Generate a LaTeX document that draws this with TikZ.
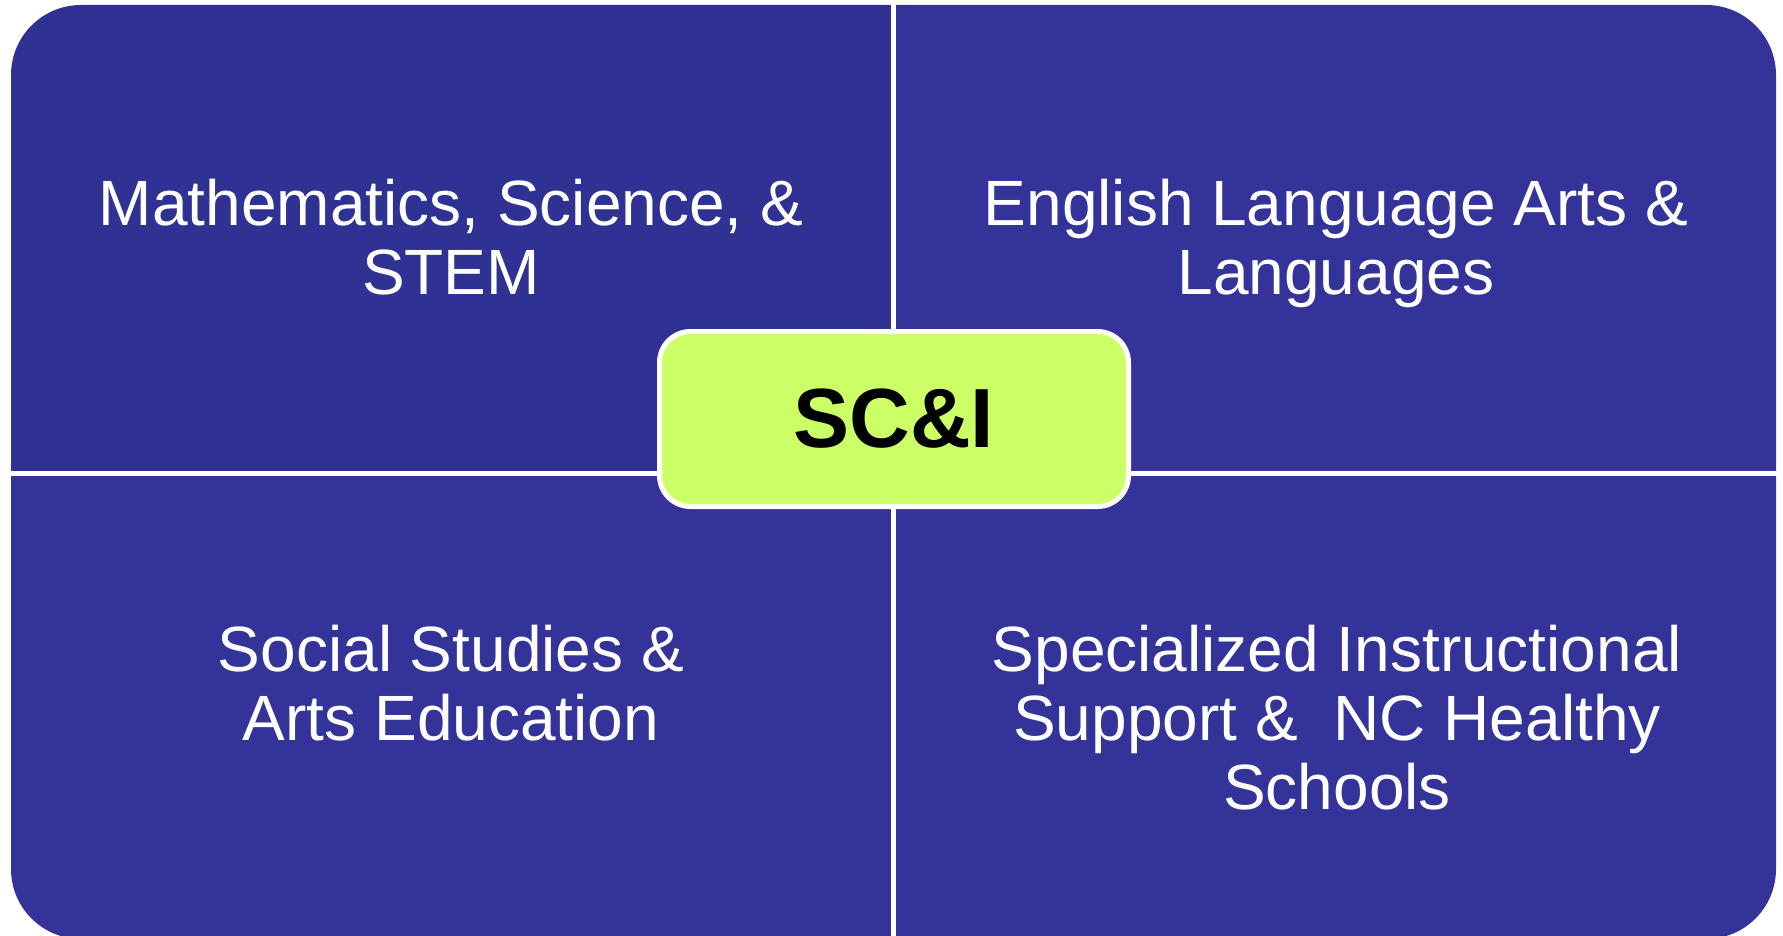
\documentclass[tikz,border=0pt]{standalone}
\usepackage{fontspec}
\setmainfont{Liberation Sans}
\definecolor{quadA}{HTML}{2F3293}
\definecolor{quadB}{HTML}{343399}
\definecolor{hubfill}{HTML}{CCFF66}
\begin{document}
\begin{tikzpicture}[x=1pt,y=-1pt,
  qtext/.style={text=white,align=center,inner sep=0pt,anchor=base,
    font=\fontsize{64}{69}\selectfont},
  hub/.style={draw=white,line width=5pt,fill=hubfill,rounded corners=31pt,
    minimum width=469pt,minimum height=175pt,inner sep=0pt,
    font=\fontsize{84}{90}\selectfont\bfseries,text=black}]
\useasboundingbox (0,0) rectangle (1783,936);
\begin{scope}
  \clip[rounded corners=70pt] (11,5) rectangle (1776,939);
  \fill[quadA] (0,0) rectangle (891,471);
  \fill[quadB] (896,0) rectangle (1783,471);
  \fill[quadB] (0,476) rectangle (891,940);
  \fill[quadB] (896,476) rectangle (1783,940);
\end{scope}
\node[qtext] (tl) at (451,294) {Mathematics, Science, \&\\STEM};
\node[qtext] (tr) at (1336,294) {English Language Arts \&\\Languages};
\node[qtext] (bl) at (451,740) {Social Studies \&\\Arts Education};
\node[qtext] (br) at (1337,809) {Specialized Instructional\\Support \&\ \ NC Healthy\\Schools};
\node[hub] (hub) at (894,419) {SC\&I};
\end{tikzpicture}
\end{document}
